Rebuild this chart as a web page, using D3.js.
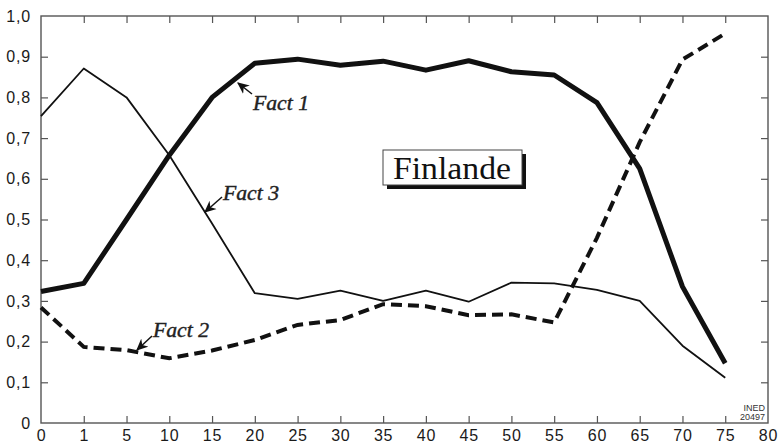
<!DOCTYPE html>
<html><head><meta charset="utf-8">
<script src="https://cdn.jsdelivr.net/npm/d3@7"></script>
<style>
html,body{margin:0;padding:0;background:#fff;}
svg{display:block;}
</style></head>
<body><svg id="c" width="779" height="445"></svg>
<script>
const xLabels = ["0","1","5","10","15","20","25","30","35","40","45","50","55","60","65","70","75","80"];
const ages = ["0","1","5","10","15","20","25","30","35","40","45","50","55","60","65","70","75"];
const yTicks = [0,0.1,0.2,0.3,0.4,0.5,0.6,0.7,0.8,0.9,1.0];
const fact1 = [0.323,0.343,0.50,0.658,0.80,0.884,0.894,0.879,0.889,0.867,0.89,0.863,0.855,0.787,0.625,0.335,0.147];
const fact2 = [0.284,0.187,0.179,0.159,0.178,0.204,0.241,0.253,0.292,0.287,0.265,0.267,0.247,0.455,0.69,0.893,0.957];
const fact3 = [0.754,0.871,0.80,0.658,0.49,0.319,0.305,0.325,0.30,0.325,0.298,0.345,0.343,0.327,0.30,0.19,0.111];
const seriesNames = ["Fact 1","Fact 2","Fact 3"];
const title = "Finlande";
const credit = ["INED","20497"];

const svg = d3.select("#c");
const L = 41, R = 768, T = 16, B = 423;
const x = d3.scalePoint().domain(xLabels).range([L, R]);
const y = d3.scaleLinear().domain([0, 1]).range([B, T]);
const fmt = d => d === 0 ? "0" : d3.format(".1f")(d).replace(".", ",");

// frame
svg.append("rect").attr("x", L).attr("y", T).attr("width", R - L).attr("height", B - T)
  .attr("fill", "none").attr("stroke", "#555").attr("stroke-width", 1.4);

// axes with inward ticks
const axB = d3.axisBottom(x).tickSize(-7).tickPadding(0);
const gB = svg.append("g").attr("transform", `translate(0,${B})`).call(axB);
const axT = d3.axisTop(x).tickSize(-7).tickFormat("");
const gT = svg.append("g").attr("transform", `translate(0,${T})`).call(axT);
const axL = d3.axisLeft(y).tickValues(yTicks).tickSize(-7).tickPadding(10).tickFormat(fmt);
const gL = svg.append("g").attr("transform", `translate(${L},0)`).call(axL);
const axR = d3.axisRight(y).tickValues(yTicks).tickSize(-7).tickFormat("");
const gR = svg.append("g").attr("transform", `translate(${R},0)`).call(axR);
[gB, gT, gL, gR].forEach(g => {
  g.select(".domain").remove();
  g.selectAll(".tick line").attr("stroke", "#555").attr("stroke-width", 1.2);
  g.selectAll("text").attr("fill", "#1a1a1a").style("font-family", "'Liberation Sans', Arial, sans-serif")
    .style("font-size", "16px").style("letter-spacing", "0.8px");
});
gT.selectAll(".tick").filter(d => d === "0" || d === "80").select("line").remove();
gB.selectAll(".tick").filter(d => d === "0" || d === "80").select("line").remove();
gL.selectAll(".tick").filter(d => d === 0 || d === 1).select("line").remove();
gR.selectAll(".tick").filter(d => d === 0 || d === 1).select("line").remove();
gB.selectAll("text").attr("y", 18).attr("dy", "0");

const line = d3.line().x((d, i) => x(ages[i])).y(d => y(d));

svg.append("path").datum(fact3).attr("d", line).attr("fill", "none")
  .attr("stroke", "#111").attr("stroke-width", 1.8).attr("stroke-linejoin", "round");
svg.append("path").datum(fact2).attr("d", line).attr("fill", "none")
  .attr("stroke", "#111").attr("stroke-width", 4).attr("stroke-dasharray", "11,6");
svg.append("path").datum(fact1).attr("d", line).attr("fill", "none")
  .attr("stroke", "#111").attr("stroke-width", 5).attr("stroke-linejoin", "round");

// arrow marker
svg.append("defs").append("marker").attr("id", "ah").attr("viewBox", "0 0 10 10")
  .attr("refX", 9).attr("refY", 5).attr("markerWidth", 12).attr("markerHeight", 12)
  .attr("markerUnits", "userSpaceOnUse").attr("orient", "auto")
  .append("path").attr("d", "M0,0.5 L10,5 L0,9.5 L3,5 Z").attr("fill", "#111");

const labels = [
  {t: seriesNames[0], tx: 253, ty: 110, x1: 252, y1: 94, x2: 238, y2: 83},
  {t: seriesNames[2], tx: 223, ty: 200, x1: 222, y1: 197, x2: 205, y2: 212},
  {t: seriesNames[1], tx: 153, ty: 337, x1: 152, y1: 336, x2: 137, y2: 350}
];
labels.forEach(l => {
  svg.append("line").attr("x1", l.x1).attr("y1", l.y1).attr("x2", l.x2).attr("y2", l.y2)
    .attr("stroke", "#111").attr("stroke-width", 1.5).attr("marker-end", "url(#ah)");
  svg.append("text").attr("x", l.tx).attr("y", l.ty).text(l.t)
    .style("font-family", "'Liberation Serif', 'Times New Roman', serif").style("font-style", "italic")
    .style("font-size", "20px").style("stroke", "#222").style("stroke-width", "0.4px")
    .attr("fill", "#222").attr("textLength", 56).attr("lengthAdjust", "spacingAndGlyphs");
});

// title box with shadow
svg.append("rect").attr("x", 387).attr("y", 154).attr("width", 139).attr("height", 35).attr("fill", "#111");
svg.append("rect").attr("x", 383).attr("y", 150).attr("width", 139).attr("height", 35)
  .attr("fill", "#fff").attr("stroke", "#444").attr("stroke-width", 1);
svg.append("text").attr("x", 452).attr("y", 179).attr("text-anchor", "middle").text(title)
  .style("font-family", "'Liberation Serif', 'Times New Roman', serif").style("font-size", "31px")
  .attr("fill", "#111").attr("textLength", 118).attr("lengthAdjust", "spacingAndGlyphs");

// credit
credit.forEach((c, i) => {
  svg.append("text").attr("x", 765).attr("y", 411 + i * 9).attr("text-anchor", "end").text(c)
    .style("font-family", "'Liberation Sans Narrow', 'Liberation Sans', sans-serif")
    .style("font-size", "9px").attr("fill", "#333");
});
</script></body></html>
